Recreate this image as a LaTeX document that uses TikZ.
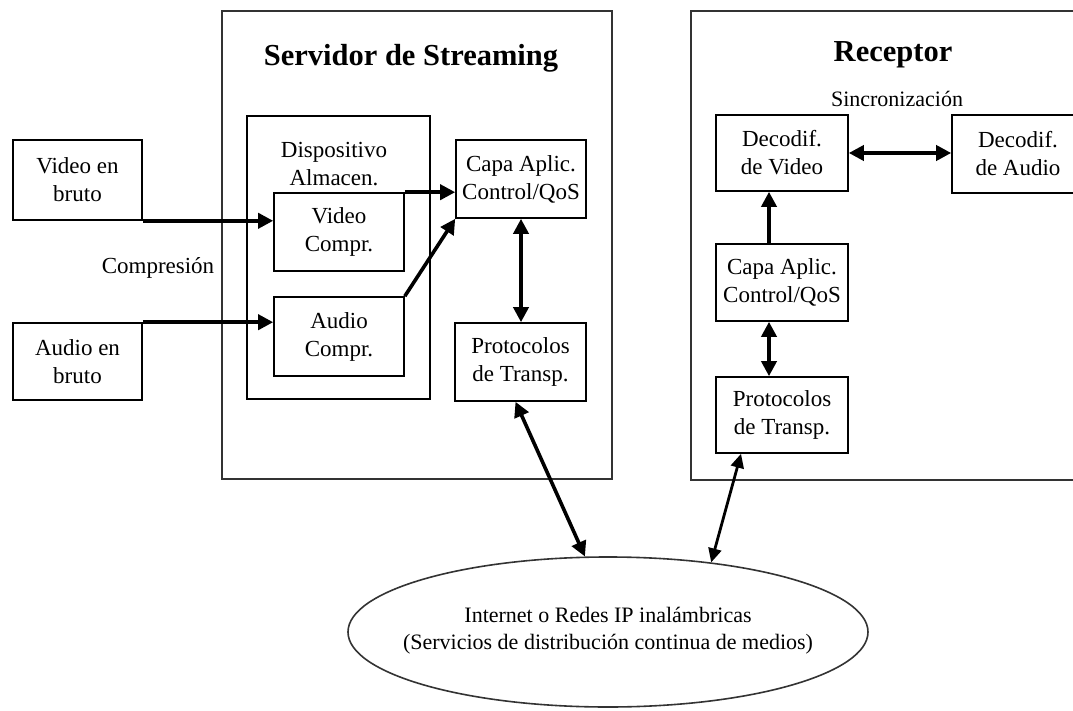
\documentclass[tikz,border=0pt]{standalone}
\usepackage{fontspec}
\setmainfont{Liberation Serif}
\usetikzlibrary{arrows.meta,shapes.geometric}
\begin{document}
\begin{tikzpicture}[x=1pt,y=-1pt,
  box/.style={draw, line width=1.6pt, inner sep=0pt, align=center, font=\fontsize{23}{28}\selectfont},
  frame/.style={draw, line width=1.8pt, draw=black!80, inner sep=0pt},
  lbl/.style={inner sep=0pt, font=\fontsize{23}{28}\selectfont},
  ttl/.style={inner sep=0pt, font=\fontsize{30.5}{36}\selectfont\bfseries},
  arr/.style={line width=3.6pt, -{Triangle[length=15pt,width=15pt]}},
  darr/.style={line width=3.6pt, {Triangle[length=15pt,width=15pt]}-{Triangle[length=15pt,width=15pt]}},
  tdarr/.style={line width=2.8pt, {Triangle[length=14pt,width=13pt]}-{Triangle[length=14pt,width=13pt]}}]
\useasboundingbox (0,0) rectangle (1073,711);
\clip (0,0) rectangle (1073,711);
\fill[white] (0,0) rectangle (1073,711);

% outer frames
\node[frame, minimum width=390pt, minimum height=468pt] (srv) at (417,245) {};
\node[frame, minimum width=409pt, minimum height=469pt] (rec) at (895.5,245.5) {};
\node[ttl, anchor=base] (srvt) at (411,66) {Servidor de Streaming};
\node[ttl, anchor=base] (rect) at (893,62) {Receptor};

% left inputs
\node[box, minimum width=129pt, minimum height=80pt] (vb) at (77.5,180) {Video en\\bruto};
\node[box, minimum width=129pt, minimum height=77pt] (ab) at (77.5,361.5) {Audio en\\bruto};
\node[lbl, anchor=base] (comp) at (158,274) {Compresión};

% storage
\node[box, minimum width=183pt, minimum height=283pt] (disp) at (338.5,257.5) {};
\node[lbl, align=center] (dispt) at (334,164) {Dispositivo\\Almacen.};
\node[box, minimum width=130pt, minimum height=78pt] (vc) at (339,232) {Video\\Compr.};
\node[box, minimum width=130pt, minimum height=79pt] (ac) at (339,336.5) {Audio\\Compr.};

% server stack
\node[box, minimum width=130pt, minimum height=78pt] (capa1) at (521,179) {Capa Aplic.\\Control/QoS};
\node[box, minimum width=131pt, minimum height=78pt] (prot1) at (520.5,362) {Protocolos\\de Transp.};

% receiver
\node[lbl, anchor=base, font=\fontsize{22}{26}\selectfont] (sync) at (897,107) {Sincronización};
\node[box, minimum width=132pt, minimum height=76pt] (dv) at (782,153) {Decodif.\\de Video};
\node[box, minimum width=132pt, minimum height=78pt] (da) at (1018,154) {Decodif.\\de Audio};
\node[box, minimum width=132pt, minimum height=77pt] (capa2) at (782,282.5) {Capa Aplic.\\Control/QoS};
\node[box, minimum width=132pt, minimum height=76pt] (prot2) at (782,415) {Protocolos\\de Transp.};

% network
\node[ellipse, draw, line width=1.6pt, draw=black!80, minimum width=520pt, minimum height=150pt, inner sep=0pt] (net) at (608,632) {};
\node[lbl, align=center, font=\fontsize{22}{27}\selectfont] (nett) at (608,631)
      {Internet o Redes IP inalámbricas\\(Servicios de distribución continua de medios)};

% connectors
\draw[arr] (vb.south east) -- (vb.south east -| vc.west);
\draw[arr] (ab.north east) -- (ab.north east -| ac.west);
\draw[arr] (vc.north east) -- (vc.north east -| capa1.west);
\draw[arr] (ac.north east) -- (capa1.south west);
\draw[darr] (capa1.south) -- (capa1.south |- prot1.north);
\draw[darr] ([xshift=-5pt]prot1.south) -- (net.107);
\draw[tdarr] ([xshift=-41pt]prot2.south) -- (net.34);
\draw[darr] ([xshift=-13pt]prot2.north) -- ([xshift=-13pt]capa2.south);
\draw[arr] ([xshift=-13pt]capa2.north) -- ([xshift=-13pt]dv.south);
\draw[darr] (dv.east) -- (dv.east -| da.west);
\end{tikzpicture}
\end{document}
